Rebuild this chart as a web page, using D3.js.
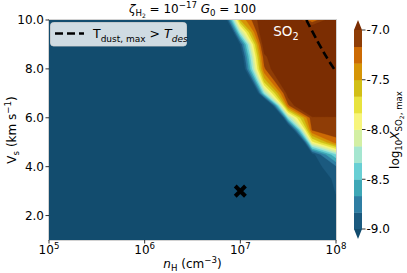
<!DOCTYPE html>
<html><head><meta charset="utf-8">
<script src="https://cdn.jsdelivr.net/npm/d3@7"></script>
<style>body{margin:0;background:#fff} text{font-family:"DejaVu Sans",sans-serif;fill:#000}</style>
</head><body><svg id="c" width="407" height="273"></svg>
<script>
// grid: log10 nH (columns) and Vs in km/s (rows, bottom to top)
const lognH = [5, 5.25, 5.5, 5.75, 6, 6.25, 6.5, 6.75, 7, 7.25, 7.5, 7.75, 8];
const vs = [1, 1.5, 2, 2.5, 3, 3.5, 4, 4.5, 5, 5.5, 6, 6.5, 7, 7.5, 8, 8.5, 9, 9.5, 10];
// log10 X(SO2, max), one row per Vs value
const logX = [
  [-13,-13,-13,-13,-13,-13,-13,-13,-13,-13,-12.5,-11,-10],
  [-13,-13,-13,-13,-13,-13,-13,-13,-13,-13,-12.5,-10.5,-9.6],
  [-13,-13,-13,-13,-13,-13,-13,-13,-13,-13,-12.5,-10,-9.3],
  [-13,-13,-13,-13,-13,-13,-13,-13,-13,-13,-13,-9.6,-9.05],
  [-13,-13,-13,-13,-13,-13,-13,-13,-13,-13,-13,-9.4,-8.98],
  [-13,-13,-13,-13,-13,-13,-13,-13,-13,-13,-13,-9.3,-8.93],
  [-13,-13,-13,-13,-13,-13,-13,-13,-13,-13,-13,-9.1,-8.86],
  [-13,-13,-13,-13,-13,-13,-13,-13,-13,-13,-13,-9.09,-8.35],
  [-13,-13,-13,-13,-13,-13,-13,-13,-13,-13,-11.3,-7.9,-7.25],
  [-13,-13,-13,-13,-13,-13,-13,-13,-13,-12.5,-9.58,-7.15,-7.05],
  [-13,-13,-13,-13,-13,-13,-13,-13,-13,-11.8,-8.3,-7.05,-7.05],
  [-13,-13,-13,-13,-13,-13,-13,-13,-12,-10.0,-7.2,-6.4,-6.5],
  [-13,-13,-13,-13,-13,-13,-13,-13,-11.2,-8.3,-6.89,-6.5,-6.5],
  [-13,-13,-13,-13,-13,-13,-13,-12.5,-10.3,-7.6,-6.6,-6.5,-6.5],
  [-13,-13,-13,-13,-13,-13,-13,-12,-9.45,-7.2,-6.49,-6.5,-6.5],
  [-13,-13,-13,-13,-13,-13,-13,-12,-9.27,-7.05,-6.63,-6.5,-6.5],
  [-13,-13,-13,-13,-13,-13,-13,-12,-9.0,-6.83,-6.5,-6.5,-6.55],
  [-13,-13,-13,-13,-13,-13,-12.8,-11,-8.2,-6.7,-6.5,-6.6,-6.6],
  [-13,-13,-13,-13,-13,-13,-12.5,-10.2,-7.5,-6.8,-6.6,-7.3,-6.75]
];
const levels = [-9, -8.833, -8.667, -8.5, -8.333, -8.167, -8, -7.833, -7.667, -7.5, -7.333, -7.167, -7];
const bandColors = ["#1b5a7f","#2f7ea3","#3ea7b6","#68cfd4","#a5e6d0","#d3efa4",
                    "#f7f57c","#e8e33e","#d2bf16","#d69506","#cc6a04","#8f3d06"];
const underColor = "#124c6e", overColor = "#7b2d02";
const cbarTicks = [-9, -8.5, -8, -7.5, -7];
const xTicks = [5, 6, 7, 8];
const yTicks = [2, 4, 6, 8, 10];
const dashLogn = [7.69, 7.80, 7.90, 8.0];
const dashVs = [10, 9.18, 8.49, 7.88];
const marker = {logn: 7, vs: 3.0};

const svg = d3.select("#c");
const L = 49, R = 336, T = 20, B = 240;
const x = d3.scaleLog().domain([1e5, 1e8]).range([L, R]);
const y = d3.scaleLinear().domain([1, 10]).range([B, T]);
const fs = 12;

function rich(sel, parts, size) {
  let cur = 0;
  parts.forEach(p => {
    const [t, mode, it] = p;
    let target = 0, s = size;
    if (mode === "sub") { target = size * 0.28; s = size * 0.72; }
    else if (mode === "sup") { target = -size * 0.42; s = size * 0.72; }
    else if (mode === "subsub") { target = size * 0.45; s = size * 0.5; }
    sel.append("tspan").attr("dy", (target - cur).toFixed(2)).attr("font-size", s.toFixed(2))
      .attr("font-style", it ? "italic" : "normal").text(t);
    cur = target;
  });
}

// clip
svg.append("defs").append("clipPath").attr("id", "clip")
  .append("rect").attr("x", L).attr("y", T).attr("width", R - L).attr("height", B - T);
const g = svg.append("g").attr("clip-path", "url(#clip)");
g.append("rect").attr("x", L).attr("y", T).attr("width", R - L).attr("height", B - T).attr("fill", underColor);

const nx = lognH.length, ny = vs.length;
const ix = d3.scaleLinear().domain(lognH.map((_, i) => i + 0.5)).range(lognH).clamp(true);
const iy = d3.scaleLinear().domain(vs.map((_, i) => i + 0.5)).range(vs).clamp(true);
const proj = d3.geoTransform({
  point: function (px, py) { this.stream.point(x(Math.pow(10, ix(px))), y(iy(py))); }
});
const path = d3.geoPath(proj);
const cs = d3.contours().size([nx, ny]).thresholds(levels)(logX.flat());
const fills = bandColors.concat([overColor]);
g.selectAll("path.c").data(cs).join("path").attr("class", "c")
  .attr("d", path).attr("fill", (d, i) => fills[i]).attr("stroke", (d, i) => fills[i]).attr("stroke-width", 0.3);

// dashed line
const dl = d3.line().x(d => x(Math.pow(10, d[0]))).y(d => y(d[1])).curve(d3.curveCatmullRom);
g.append("path").attr("d", dl(dashLogn.map((v, i) => [v, dashVs[i]])))
  .attr("fill", "none").attr("stroke", "#000").attr("stroke-width", 2.6).attr("stroke-dasharray", "8,4");

// marker
svg.append("path").attr("transform", `translate(${x(Math.pow(10, marker.logn))},${y(marker.vs)})`)
  .attr("d", d3.symbol(d3.symbolTimes, 70)()).attr("stroke", "#000").attr("stroke-width", 4).attr("fill", "none");

// SO2 label
const so = svg.append("text").attr("x", 286).attr("y", 36).attr("text-anchor", "middle").style("fill", "#fff");
rich(so, [["SO", "n"], ["2", "sub"]], 13.5);

// frame
svg.append("rect").attr("x", L - 0.5).attr("y", T - 0.5).attr("width", R - L + 1).attr("height", B - T + 1)
  .attr("fill", "none").attr("stroke", "#c8c8c8").attr("stroke-width", 0.8);

// legend
const lg = svg.append("g");
lg.append("rect").attr("x", 50.5).attr("y", 22.5).attr("width", 136).attr("height", 23.5).attr("rx", 3)
  .attr("fill", "#cfdbe2").attr("stroke", "#d6d6d6").attr("stroke-width", 0.8);
lg.append("line").attr("x1", 55).attr("x2", 84).attr("y1", 33.5).attr("y2", 33.5)
  .attr("stroke", "#000").attr("stroke-width", 2.6).attr("stroke-dasharray", "8,4");
const lt = lg.append("text").attr("x", 93).attr("y", 38);
rich(lt, [["T", "n"], ["dust, max", "sub"], [" > ", "n"], ["T", "n", true], ["des", "sub", true]], 12.5);

// title
const tt = svg.append("text").attr("x", (L + R) / 2).attr("y", 13).attr("text-anchor", "middle");
rich(tt, [["ζ", "n", true], ["H", "sub"], ["2", "subsub"], [" = 10", "n"], ["−17", "sup"], [" ", "n"], ["G", "n", true], ["0", "sub"], [" = 100", "n"]], 12);

// x axis
const xa = svg.append("g");
xTicks.forEach(k => {
  const px = x(Math.pow(10, k));
  xa.append("line").attr("x1", px).attr("x2", px).attr("y1", B).attr("y2", B + 3.5).attr("stroke", "#000").attr("stroke-width", 0.8);
  const t = xa.append("text").attr("x", px).attr("y", 254).attr("text-anchor", "middle");
  rich(t, [["10", "n"], [String(k), "sup"]], fs);
});
const xl = svg.append("text").attr("x", (L + R) / 2).attr("y", 268).attr("text-anchor", "middle");
rich(xl, [["n", "n", true], ["H", "sub"], [" (cm", "n"], ["−3", "sup"], [")", "n"]], fs);

// y axis
yTicks.forEach(v => {
  const py = y(v);
  svg.append("line").attr("x1", L - 3.5).attr("x2", L).attr("y1", py).attr("y2", py).attr("stroke", "#000").attr("stroke-width", 0.8);
  svg.append("text").attr("x", L - 5).attr("y", py + 4.3).attr("text-anchor", "end").attr("font-size", fs).text(v.toFixed(1));
});
const yl = svg.append("text").attr("transform", `translate(16,${(T + B) / 2}) rotate(-90)`).attr("text-anchor", "middle");
rich(yl, [["V", "n"], ["s", "sub"], [" (km s", "n"], ["−1", "sup"], [")", "n"]], fs);

// colorbar
const cx0 = 354, cw = 8;
const cy = d3.scaleLinear().domain([-9, -7]).range([229, 30]);
const cb = svg.append("g");
bandColors.forEach((c, i) => {
  cb.append("rect").attr("x", cx0).attr("y", cy(levels[i + 1])).attr("width", cw)
    .attr("height", cy(levels[i]) - cy(levels[i + 1]) + 0.4).attr("fill", c);
});
cb.append("path").attr("d", `M${cx0},${cy(-7)}L${cx0 + cw / 2},${cy(-7) - 10}L${cx0 + cw},${cy(-7)}Z`).attr("fill", overColor);
cb.append("path").attr("d", `M${cx0},${cy(-9)}L${cx0 + cw / 2},${cy(-9) + 10}L${cx0 + cw},${cy(-9)}Z`).attr("fill", underColor);
cbarTicks.forEach(v => {
  const py = cy(v);
  cb.append("line").attr("x1", cx0 + cw).attr("x2", cx0 + cw + 3.5).attr("y1", py).attr("y2", py).attr("stroke", "#000").attr("stroke-width", 0.8);
  cb.append("text").attr("x", cx0 + cw + 4.5).attr("y", py + 4.3).attr("font-size", fs).text(v.toFixed(1));
});
const cl = svg.append("text").attr("transform", `translate(399,${(T + B) / 2}) rotate(-90)`).attr("text-anchor", "middle");
rich(cl, [["log", "n"], ["10", "sub"], ["X", "n", true], ["SO", "sub"], ["2", "subsub"], [", max", "sub"]], fs);
</script></body></html>
